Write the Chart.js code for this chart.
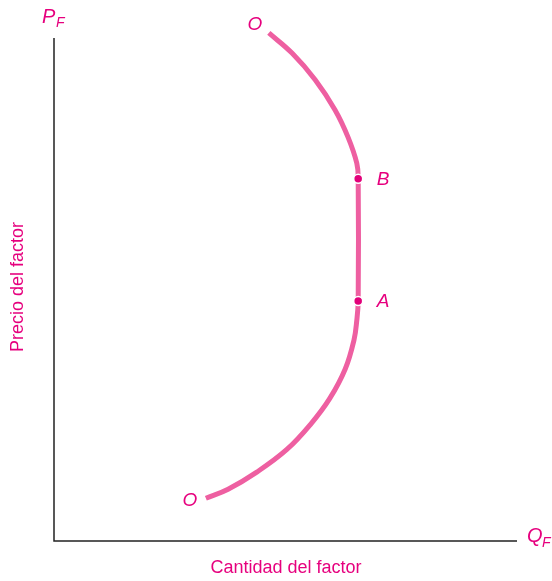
<!DOCTYPE html>
<html lang="es">
<head>
  <meta charset="UTF-8">
  <title>Oferta de factor</title>
  <script src="https://cdn.jsdelivr.net/npm/chart.js@4.4.3/dist/chart.umd.min.js"></script>
  <style>
    body { margin: 0; background: #fff; }
    #wrap { width: 552px; height: 581px; position: relative; }
  </style>
</head>
<body>
  <div id="wrap"><canvas id="chart"></canvas></div>

  <script>
    // curve (quantity, price), from lower O up to upper O
    const curveX = [3.28, 3.76, 4.38, 5.03, 5.55, 5.96, 6.29, 6.48, 6.54, 6.57, 6.57, 6.54, 6.35, 6.07, 5.64, 5.14, 4.64];
    const curveY = [0.85, 1.03, 1.37, 1.82, 2.33, 2.84, 3.42, 4.0, 4.39, 4.77, 7.2, 7.51, 8.03, 8.57, 9.17, 9.7, 10.1];
    // marked points
    const pointNames = ['A', 'B'];
    const pointX = [6.57, 6.57];
    const pointY = [4.77, 7.2];
    const axisTitles = ['Cantidad del factor', 'Precio del factor'];

    const curveColor = '#ee5fa1';
    const textColor = '#e6007e';

    const labelsPlugin = {
      id: 'labels',
      afterDraw(chart) {
        const { ctx, chartArea: a, scales: { x, y } } = chart;
        ctx.save();
        // axes
        ctx.strokeStyle = '#222';
        ctx.lineWidth = 1.5;
        ctx.beginPath();
        ctx.moveTo(a.left, a.top);
        ctx.lineTo(a.left, a.bottom);
        ctx.lineTo(a.right, a.bottom);
        ctx.stroke();

        ctx.fillStyle = textColor;
        ctx.textBaseline = 'middle';
        ctx.textAlign = 'center';
        ctx.font = '18px "Liberation Sans", Arial, sans-serif';
        ctx.fillText(axisTitles[0], 286, 568);
        ctx.save();
        ctx.translate(18, 287);
        ctx.rotate(-Math.PI / 2);
        ctx.fillText(axisTitles[1], 0, 0);
        ctx.restore();

        // axis symbols
        ctx.textAlign = 'left';
        ctx.font = 'italic 20px "Liberation Sans", Arial, sans-serif';
        ctx.fillText('P', 42, 17);
        ctx.fillText('Q', 527, 536);
        ctx.font = 'italic 14px "Liberation Sans", Arial, sans-serif';
        ctx.fillText('F', 56, 23);
        ctx.fillText('F', 542, 543);

        // point names
        ctx.font = 'italic 19px "Liberation Sans", Arial, sans-serif';
        ctx.textAlign = 'center';
        pointNames.forEach((n, i) => {
          ctx.fillText(n, x.getPixelForValue(pointX[i]) + 25, y.getPixelForValue(pointY[i]) + 1);
        });
        const n = curveX.length - 1;
        ctx.fillText('O', x.getPixelForValue(curveX[0]) - 16, y.getPixelForValue(curveY[0]) + 2);
        ctx.fillText('O', x.getPixelForValue(curveX[n]) - 14, y.getPixelForValue(curveY[n]) - 8);
        ctx.restore();
      }
    };

    new Chart(document.getElementById('chart'), {
      type: 'line',
      data: {
        datasets: [{
          data: curveX.map((v, i) => ({ x: v, y: curveY[i] })),
          borderColor: curveColor,
          borderWidth: 5,
          tension: 0.4,
          fill: false,
          pointRadius: 0,
          borderCapStyle: 'butt',
          clip: false,
          order: 2
        }, {
          data: pointX.map((v, i) => ({ x: v, y: pointY[i] })),
          showLine: false,
          pointRadius: 4.5,
          pointBackgroundColor: '#e2007a',
          pointBorderColor: '#fff',
          pointBorderWidth: 1.5,
          clip: false,
          order: 1
        }]
      },
      options: {
        responsive: true,
        maintainAspectRatio: false,
        animation: false,
        layout: { padding: { left: 54, top: 38, right: 35, bottom: 40 } },
        scales: {
          x: { type: 'linear', min: 0, max: 10, display: false },
          y: { type: 'linear', min: 0, max: 10, display: false }
        },
        plugins: { legend: { display: false }, tooltip: { enabled: false } }
      },
      plugins: [labelsPlugin]
    });
  </script>
</body>
</html>
